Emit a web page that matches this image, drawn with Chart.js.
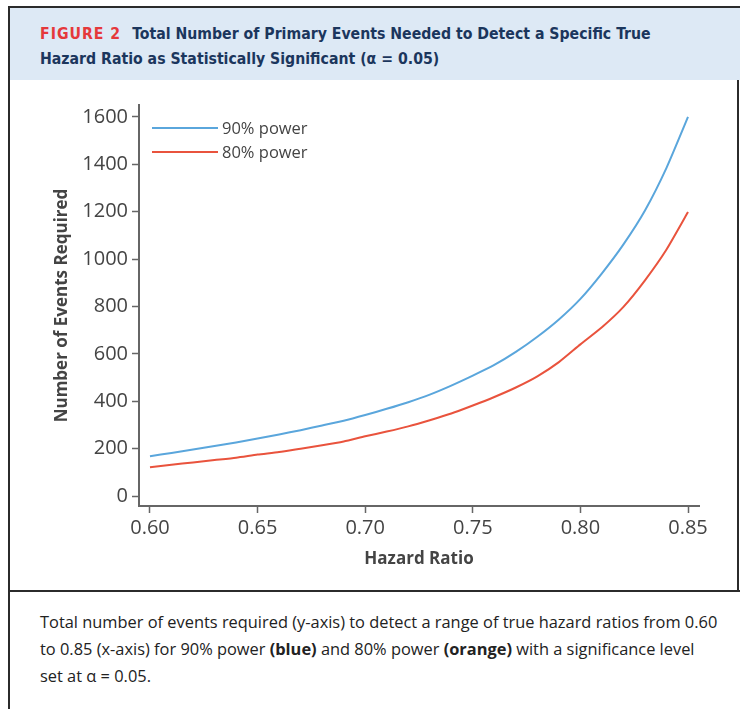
<!DOCTYPE html>
<html lang="en">

<head>
    <meta charset="UTF-8">
    <title>Figure 2</title>
    <script src="https://cdn.jsdelivr.net/npm/chart.js"></script>
    <style>
        body {
            margin: 0;
            width: 740px;
            height: 709px;
            overflow: hidden;
            background: #fff;
            position: relative;
        }

        .line { position: absolute; background: #2b2b2b; }

        .header {
            position: absolute;
            left: 10px;
            top: 8px;
            width: 730px;
            height: 72px;
            background: #dde9f5;
        }

        .title {
            position: absolute;
            left: 40px;
            top: 21px;
            font-family: "Liberation Sans Narrow", "DejaVu Sans Condensed", sans-serif;
            font-weight: bold;
            font-size: 15.7px;
            line-height: 25px;
            color: #1b365d;
            white-space: nowrap;
        }

        .title .fig {
            color: #e5383b;
            letter-spacing: 1px;
            margin-right: 11px;
        }

        .chart-box {
            position: absolute;
            left: 10px;
            top: 82px;
            width: 727px;
            height: 508px;
        }

        .caption {
            position: absolute;
            left: 40px;
            top: 608px;
            font-family: "Open Sans", sans-serif;
            font-size: 16.4px;
            line-height: 27px;
            color: #222;
            white-space: nowrap;
        }
    </style>
</head>

<body>
    <div class="header"></div>
    <div class="line" style="left:8px;top:6px;width:732px;height:2px;"></div>
    <div class="line" style="left:8px;top:6px;width:2px;height:703px;"></div>
    <div class="line" style="left:737px;top:80px;width:2px;height:511px;"></div>
    <div class="line" style="left:10px;top:590px;width:730px;height:2px;"></div>

    <div class="title">
        <span class="fig">FIGURE 2</span>Total Number of Primary Events Needed to Detect a Specific True<br>
        Hazard Ratio as Statistically Significant (&alpha; = 0.05)
    </div>

    <div class="chart-box">
        <canvas id="myChart" width="727" height="508"></canvas>
    </div>

    <div class="caption">
        Total number of events required (y-axis) to detect a range of true hazard ratios from 0.60<br>
        to 0.85 (x-axis) for 90% power <b>(blue)</b> and 80% power <b>(orange)</b> with a significance level<br>
        set at &alpha; = 0.05.
    </div>

    <script>
        // hazard ratios (x) and events required for each power level
        const hazardRatios = [0.60, 0.61, 0.62, 0.63, 0.64, 0.65, 0.66, 0.67, 0.68, 0.69,
            0.70, 0.71, 0.72, 0.73, 0.74, 0.75, 0.76, 0.77, 0.78, 0.79,
            0.80, 0.81, 0.82, 0.83, 0.84, 0.85];
        const power90 = [168, 182, 196, 211, 226, 243, 260, 278, 298, 318,
            342, 368, 396, 428, 466, 508, 553, 608, 672, 745,
            832, 940, 1062, 1205, 1385, 1600];
        const power80 = [122, 132, 142, 152, 162, 175, 186, 200, 214, 230,
            252, 272, 294, 320, 348, 382, 418, 458, 505, 565,
            640, 712, 798, 910, 1040, 1198];
        const seriesLabels = ['90% power', '80% power'];
        const xTicks = [0.60, 0.65, 0.70, 0.75, 0.80, 0.85];
        const yTicks = [0, 200, 400, 600, 800, 1000, 1200, 1400, 1600];

        const blue = '#5aa6dc';
        const red = '#e9533d';
        const tickFont = { family: '"Open Sans", sans-serif', size: 20 };
        const titleFont = { family: '"Open Sans", sans-serif', size: 17, weight: 'bold' };

        function toPoints(ys) {
            return hazardRatios.map((x, i) => ({ x: x, y: ys[i] }));
        }

        // legend drawn inside the plot, top left
        const innerLegend = {
            id: 'innerLegend',
            afterDraw(chart) {
                const ctx = chart.ctx;
                const area = chart.chartArea;
                ctx.save();
                ctx.font = '16.5px "Open Sans", sans-serif';
                ctx.textBaseline = 'middle';
                chart.data.datasets.forEach((ds, i) => {
                    const y = area.top + 23 + i * 24;
                    ctx.strokeStyle = ds.borderColor;
                    ctx.lineWidth = 2;
                    ctx.beginPath();
                    ctx.moveTo(area.left + 13, y);
                    ctx.lineTo(area.left + 79, y);
                    ctx.stroke();
                    ctx.fillStyle = '#444';
                    ctx.fillText(ds.label, area.left + 83, y + 1);
                });
                ctx.restore();
            }
        };

        const ctx = document.getElementById('myChart').getContext('2d');
        new Chart(ctx, {
            type: 'line',
            data: {
                datasets: [{
                    label: seriesLabels[0],
                    data: toPoints(power90),
                    borderColor: blue,
                    borderWidth: 2,
                    pointRadius: 0,
                    tension: 0.2
                }, {
                    label: seriesLabels[1],
                    data: toPoints(power80),
                    borderColor: red,
                    borderWidth: 2,
                    pointRadius: 0,
                    tension: 0.2
                }]
            },
            options: {
                responsive: false,
                animation: false,
                layout: { padding: { left: 38, top: 23, right: 38, bottom: 21 } },
                plugins: {
                    legend: { display: false },
                    tooltip: { enabled: false }
                },
                scales: {
                    x: {
                        type: 'linear',
                        min: 0.5949,
                        max: 0.8551,
                        afterBuildTicks: s => { s.ticks = xTicks.map(v => ({ value: v })); },
                        afterFit: s => { s.height = 63; },
                        ticks: {
                            color: '#444',
                            font: tickFont,
                            padding: 3,
                            callback: v => v.toFixed(2)
                        },
                        grid: { drawOnChartArea: false, tickLength: 7, tickColor: '#666', tickWidth: 1.5 },
                        border: { color: '#666', width: 2 },
                        title: {
                            display: true,
                            text: 'Hazard Ratio',
                            color: '#444',
                            font: titleFont,
                            padding: { top: 2, bottom: 0 }
                        }
                    },
                    y: {
                        min: -42,
                        max: 1650,
                        afterBuildTicks: s => { s.ticks = yTicks.map(v => ({ value: v })); },
                        afterFit: s => { s.width = 91; },
                        ticks: { color: '#444', font: tickFont, padding: 4, callback: v => String(v) },
                        grid: { drawOnChartArea: false, tickLength: 7, tickColor: '#666', tickWidth: 1.5 },
                        border: { color: '#666', width: 2 },
                        title: {
                            display: true,
                            text: 'Number of Events Required',
                            color: '#444',
                            font: titleFont,
                            padding: { top: 4, bottom: 0 }
                        }
                    }
                }
            },
            plugins: [innerLegend]
        });
    </script>
</body>

</html>
